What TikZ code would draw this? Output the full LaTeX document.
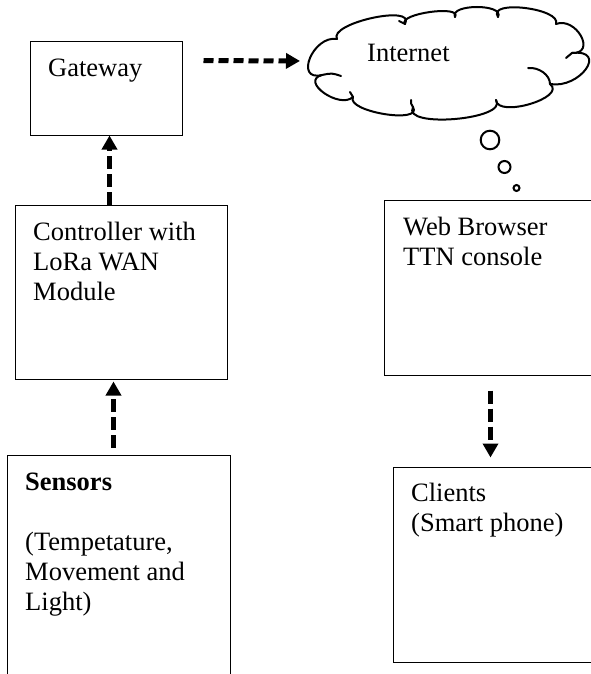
\documentclass[tikz,border=0pt]{standalone}
\usepackage{fontspec}
\setmainfont{Liberation Serif}
\usetikzlibrary{arrows.meta,calc}
\begin{document}
\begin{tikzpicture}[x=1pt,y=-1pt,
  box/.style={draw, line width=1pt, rectangle, inner sep=0pt},
  % multi-line texts are placed by the baseline of their last line
  txt/.style={anchor=base west, inner sep=0pt, align=left,
              font=\fontsize{26.5}{30}\selectfont},
  flow/.style={line width=5pt, dash pattern=on 13pt off 5pt,
               -{Triangle[length=14pt,width=15pt]}},
  cloudline/.style={line width=2pt, line cap=round, line join=round},
  bubble/.style={circle, draw, line width=2pt, inner sep=0pt}]
\useasboundingbox (0,0) rectangle (591,674);
\fill[white] (0,0) rectangle (591,674);
\clip (0,0) rectangle (591,674);

% boxes (the right-hand ones and the sensor box run past the page edge)
\node[box, minimum width=152pt, minimum height=93pt]  (gateway)    at (106,88.5)  {};
\node[box, minimum width=212pt, minimum height=174pt] (controller) at (121,292)   {};
\node[box, minimum width=223pt, minimum height=265pt] (sensors)    at (118.5,587.5) {};
\node[box, minimum width=236pt, minimum height=175pt] (browser)    at (502,287.5) {};
\node[box, minimum width=227pt, minimum height=195pt] (clients)    at (506.5,564.5) {};

% box texts
\node[txt] (gatewaytxt)    at (48,76.5) {Gateway};
\node[txt] (controllertxt) at (33,300)  {Controller with\\LoRa WAN\\Module};
\node[txt] (sensorstxt)    at (25,610)  {\textbf{Sensors}\\[30pt](Tempetature,\\Movement and\\Light)};
\node[txt] (browsertxt)    at (403,265) {Web Browser\\TTN console};
\node[txt] (clientstxt)    at (411,531) {Clients\\(Smart phone)};

% cloud: puff junctions and puff tops
\coordinate (J1)  at (337,39);  \coordinate (M1)  at (372,18);
\coordinate (J2)  at (405,24);  \coordinate (M2)  at (430,12);
\coordinate (J3)  at (455,17);  \coordinate (M3)  at (477,7);
\coordinate (J4)  at (498,17);  \coordinate (M4)  at (525,8);
\coordinate (J5)  at (556,24);  \coordinate (M5)  at (581,36);
\coordinate (J6)  at (572,53);  \coordinate (M6)  at (586,69);
\coordinate (J7)  at (550,84);  \coordinate (M7)  at (530,104);
\coordinate (J8)  at (496,100); \coordinate (M8)  at (455,119);
\coordinate (J9)  at (413,107); \coordinate (M9)  at (384,114);
\coordinate (J10) at (353,97);  \coordinate (M10) at (324,93);
\coordinate (J11) at (322,75);  \coordinate (M11) at (310,58);
\foreach \a/\m/\b in {J1/M1/J2, J2/M2/J3, J3/M3/J4, J4/M4/J5, J5/M5/J6, J6/M6/J7,
                      J7/M7/J8, J8/M8/J9, J9/M9/J10, J10/M10/J11, J11/M11/J1}
  \draw[cloudline] (\a)
    .. controls ($0.4833*(\a)+1.3333*(\m)-0.8167*(\b)$)
            and ($0.4833*(\b)+1.3333*(\m)-0.8167*(\a)$) .. (\b);
% inner curls of the cloud
\draw[cloudline] (J11) .. controls (332,73) .. (341,76);
\draw[cloudline] (J7) .. controls (550,75) and (539,67) .. (528,68);
\draw[cloudline] (J9) .. controls (411,104) .. (411,100);
\draw[cloudline] (J6) .. controls (569,55) .. (566,58);
\draw[cloudline] (J10) .. controls (351,94) .. (350,92);
\draw[cloudline] (J2) .. controls (402,22) .. (399,21);
\node[txt] (internet) at (367,62) {Internet};
\coordinate (cloudwest) at (310,61);

% thought bubbles
\node[bubble, minimum size=18.6pt] (bubbleA) at (490,140) {};
\node[bubble, minimum size=12pt]   (bubbleB) at (504.5,167) {};
\node[bubble, minimum size=6pt]    (bubbleC) at (516.5,188) {};

% connectors
\draw[flow, dash pattern=on 10pt off 5pt, shorten <=21pt, shorten >=10pt]
  ($(gateway.north east)+(0,19)$) -- (cloudwest);
\draw[flow] ($(controller.north west)+(95,0)$) -- ($(gateway.south west)+(80,0)$);
\draw[flow, shorten <=7pt, shorten >=2pt]
  ($(sensors.north west)+(107,0)$) -- ($(controller.south west)+(99,0)$);
\draw[flow, shorten <=15pt, shorten >=9pt]
  ($(browser.south west)+(107,0)$) -- ($(clients.north west)+(98,0)$);
\end{tikzpicture}
\end{document}
